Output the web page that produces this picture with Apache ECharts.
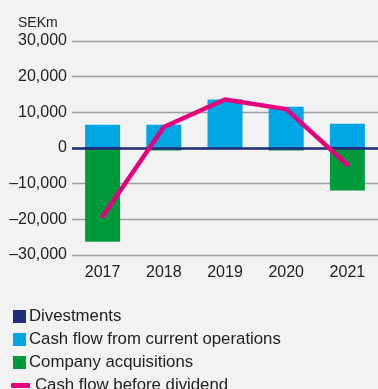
<!DOCTYPE html>
<html>
<head>
<meta charset="utf-8">
<script src="https://cdn.jsdelivr.net/npm/echarts@6/dist/echarts.min.js"></script>
<style>
  html, body { margin: 0; padding: 0; background: #f2f2f2; }
  #chart { width: 378px; height: 389px; }
</style>
</head>
<body>
<div id="chart"></div>
<script>
// Cash flow by year, SEKm
const years = ['2017', '2018', '2019', '2020', '2021'];
const divestments = [300, 100, 0, 0, 300];
const currentOperations = [6200, 6400, 13600, 11600, 6500];
const acquisitions = [-26300, -700, 0, -700, -11900];
const beforeDividend = [-19200, 5900, 13600, 10900, -4700];
const yTicks = [-30000, -20000, -10000, 0, 10000, 20000, 30000];

const FONT = '"Liberation Sans", Arial, sans-serif';
const NAVY = '#1f2d7b', BLUE = '#00a6e4', GREEN = '#009a3d', PINK = '#e6007e';

const fmt = v => (v < 0 ? '\u2013' : '') + Math.abs(v).toLocaleString('en-US');

const chart = echarts.init(document.getElementById('chart'));
chart.setOption({
  backgroundColor: '#f2f2f2',
  animation: false,
  textStyle: { fontFamily: FONT },
  graphic: [{
    type: 'text', left: 18, top: 16,
    style: { text: 'SEKm', font: '14px ' + FONT, fill: '#222' }
  }],
  legend: [{
    orient: 'vertical', left: 8, top: 303, itemGap: 6,
    itemWidth: 13, itemHeight: 13,
    textStyle: { fontSize: 16.8, color: '#222', fontFamily: FONT, padding: [0, 0, 0, -2] },
    data: [
      { name: 'Divestments', icon: 'rect' },
      { name: 'Cash flow from current operations', icon: 'rect' },
      { name: 'Company acquisitions', icon: 'rect' }
    ]
  }, {
    orient: 'vertical', left: 6, top: 372, itemWidth: 19, itemHeight: 5,
    textStyle: { fontSize: 16.8, color: '#222', fontFamily: FONT },
    data: [{ name: 'Cash flow before dividend', icon: 'roundRect' }]
  }],
  grid: { left: 72, right: -3, top: 41, bottom: 134, containLabel: false },
  xAxis: {
    type: 'category', data: years,
    axisLine: { show: false }, axisTick: { show: false },
    axisLabel: { fontSize: 16, color: '#222', margin: 10, fontFamily: FONT }
  },
  yAxis: {
    type: 'value', min: -30000, max: 30000, interval: 10000,
    axisLine: { show: false }, axisTick: { show: false },
    axisLabel: { fontSize: 16, color: '#222', margin: 5, fontFamily: FONT,
      formatter: v => yTicks.includes(v) ? fmt(v) : '' },
    splitLine: { lineStyle: { color: '#9aa0a6', width: 1.3 } }
  },
  series: [
    { name: 'Divestments', type: 'bar', stack: 'cf', barWidth: 35,
      itemStyle: { color: NAVY }, data: divestments },
    { name: 'Cash flow from current operations', type: 'bar', stack: 'cf', barWidth: 35,
      itemStyle: { color: BLUE }, data: currentOperations },
    { name: 'Company acquisitions', type: 'bar', stack: 'cf', barWidth: 35,
      itemStyle: { color: GREEN }, data: acquisitions,
      markLine: {
        silent: true, symbol: 'none', label: { show: false },
        lineStyle: { color: NAVY, width: 2.5, type: 'solid' },
        data: [{ yAxis: 0 }]
      } },
    { name: 'Cash flow before dividend', type: 'line', data: beforeDividend,
      symbol: 'none', z: 5,
      lineStyle: { color: PINK, width: 4.5, cap: 'round', join: 'round' },
      itemStyle: { color: PINK } }
  ]
});
</script>
</body>
</html>
